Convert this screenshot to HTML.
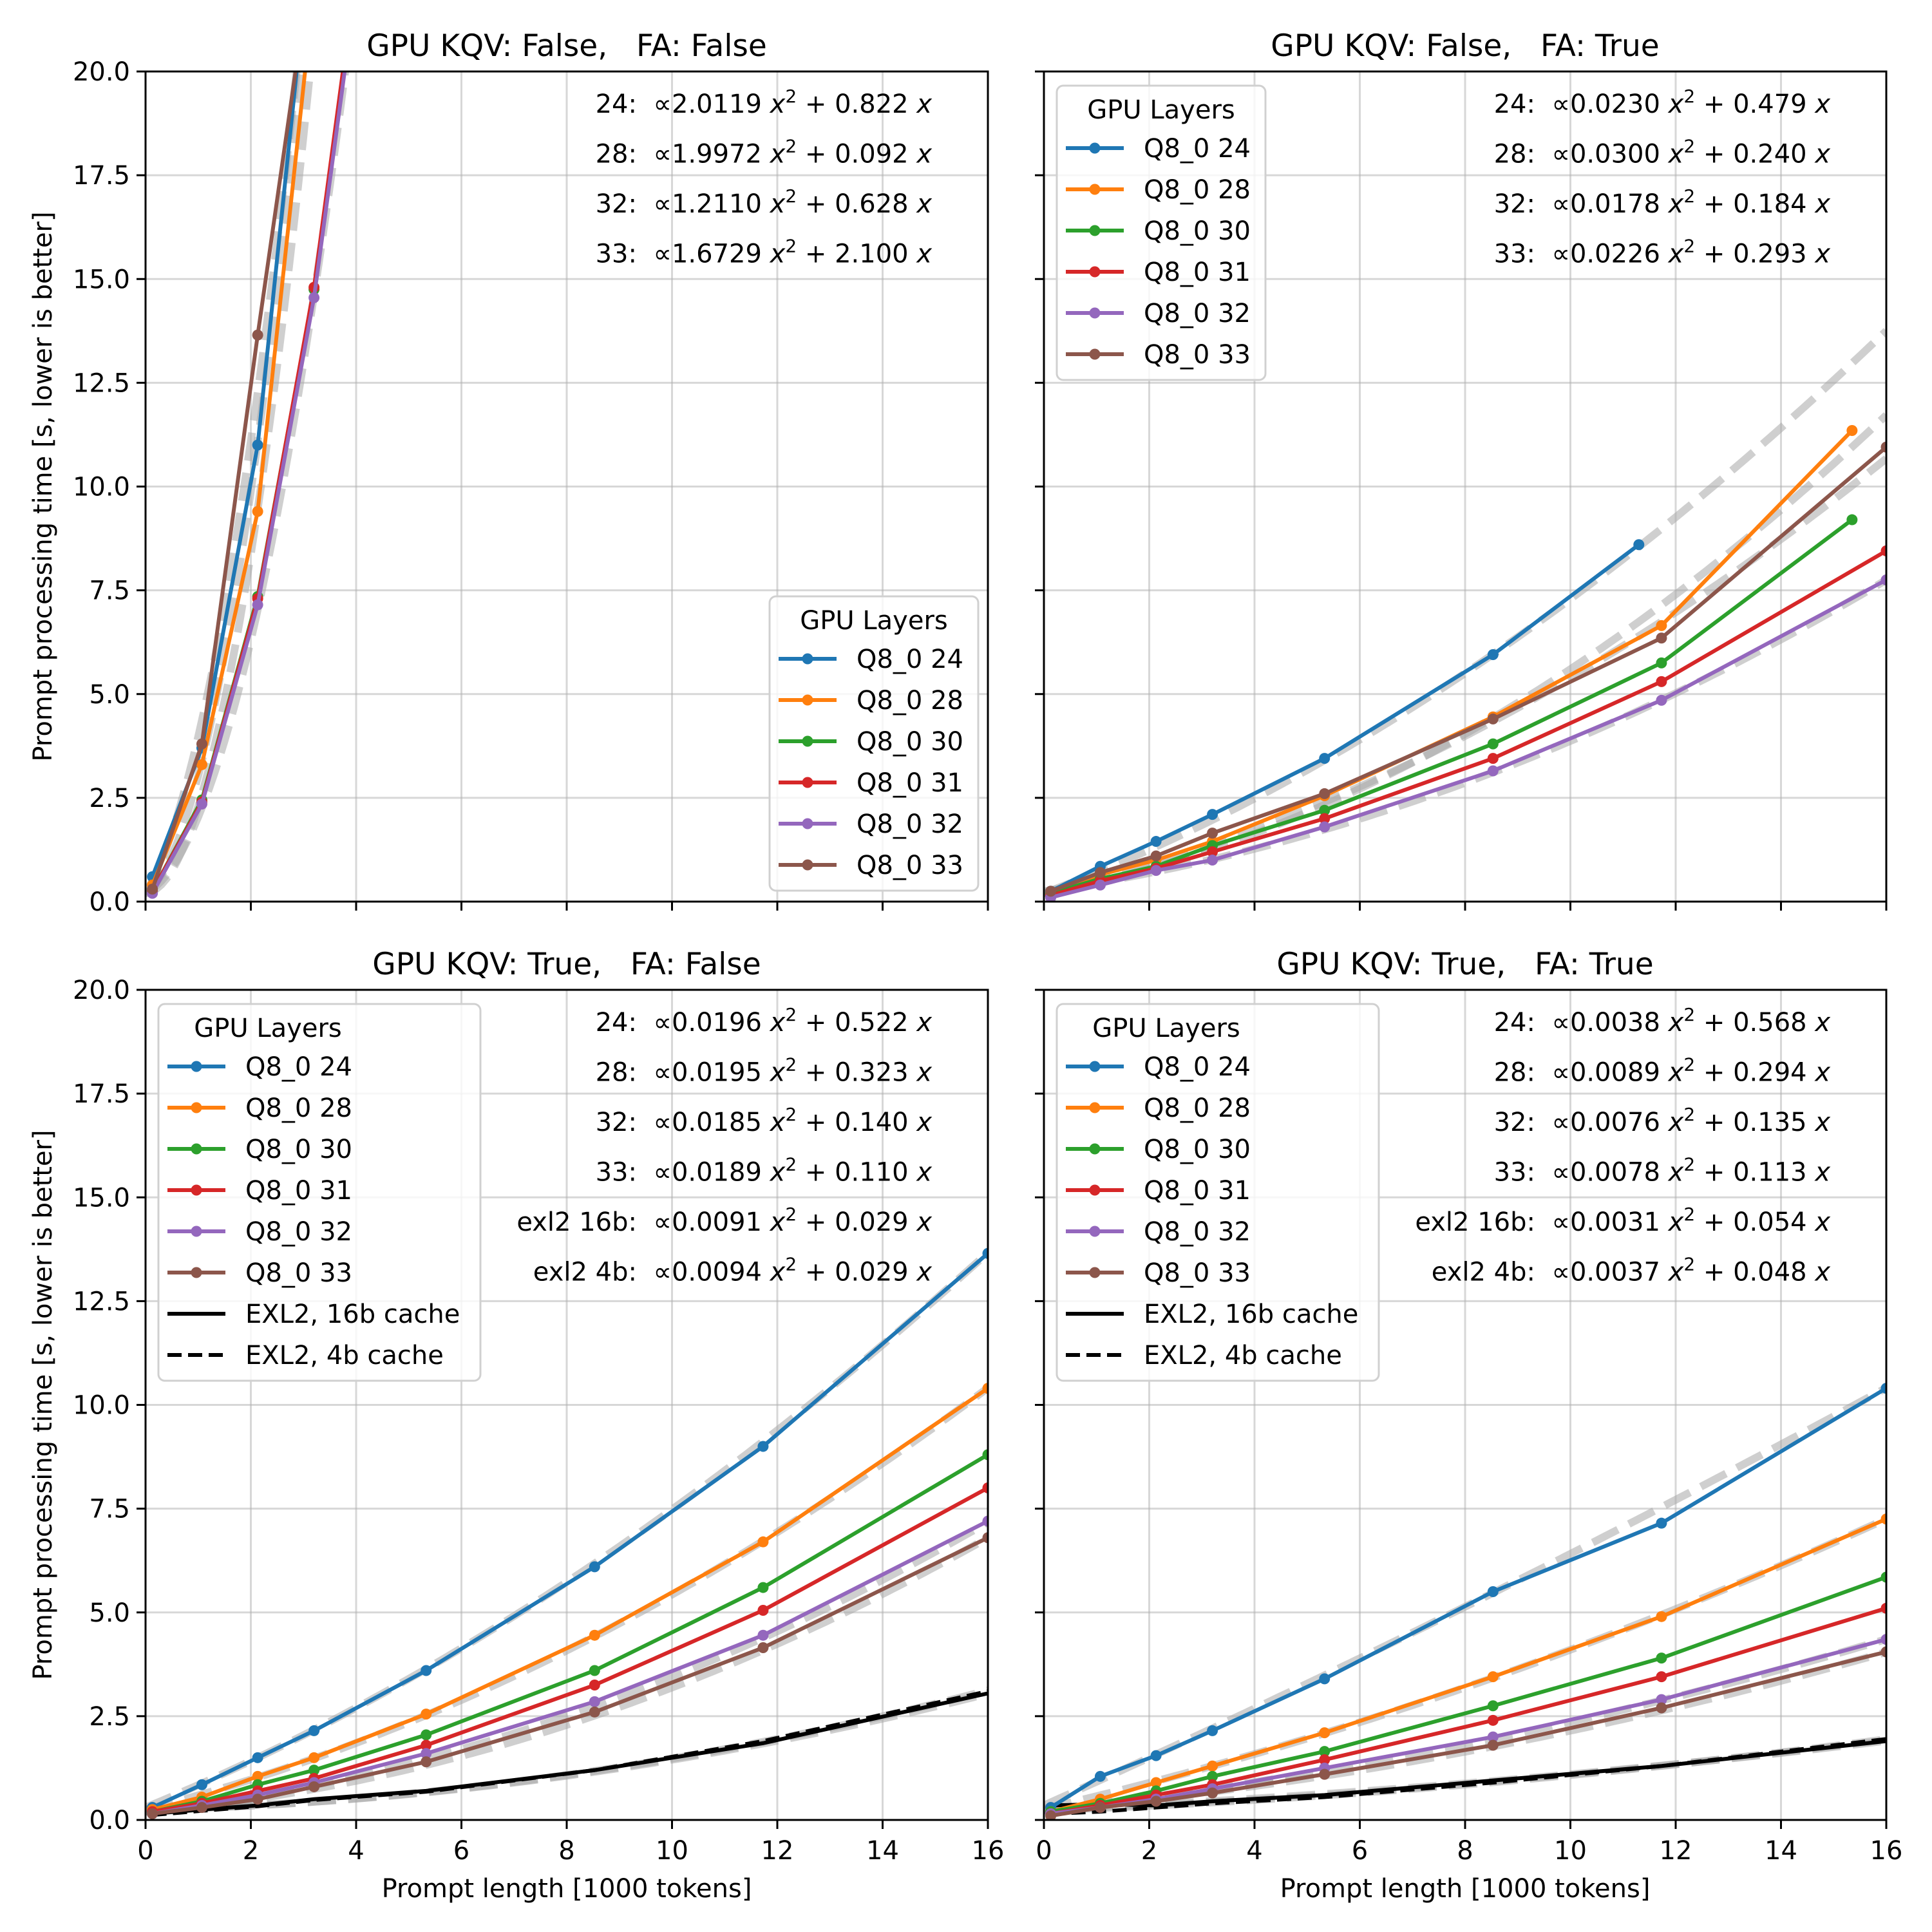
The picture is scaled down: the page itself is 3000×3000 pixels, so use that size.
<!DOCTYPE html>
<html><head><meta charset="utf-8">
<style>
html,body{margin:0;padding:0;background:#fff;}
svg{display:block;font-family:"DejaVu Sans","Liberation Sans",sans-serif;}
.pre{white-space:pre;}
</style></head>
<body>
<svg id="fig" width="3000" height="3000" viewBox="0 0 3000 3000" xmlns="http://www.w3.org/2000/svg">
<rect width="3000" height="3000" fill="#fff"/>
</svg>
<script>
// ---------- data ----------
const xPts = [0.13, 1.07, 2.13, 3.2, 5.33, 8.53, 11.73, 16];
const seriesNames = ["Q8_0 24","Q8_0 28","Q8_0 30","Q8_0 31","Q8_0 32","Q8_0 33"];
const seriesColors = ["#1f77b4","#ff7f0e","#2ca02c","#d62728","#9467bd","#8c564b"];
const xTicks = [0,2,4,6,8,10,12,14,16];
const yTicks = [0,2.5,5,7.5,10,12.5,15,17.5,20];
const yTickLabels = ["0.0","2.5","5.0","7.5","10.0","12.5","15.0","17.5","20.0"];

// panel 1: KQV False, FA False
const p1x = [[0.13,1.07,2.13,3.2],[0.13,1.07,2.13,3.2],[0.13,1.07,2.13,3.2,5.33],[0.13,1.07,2.13,3.2,5.33],[0.13,1.07,2.13,3.2,5.33],[0.13,1.07,2.13,3.2]];
const p1y = [[0.6,3.7,11.0,24.0],[0.4,3.3,9.4,22.0],[0.25,2.45,7.35,14.75,35],[0.25,2.4,7.3,14.8,35],[0.2,2.35,7.15,14.55,34.5],[0.3,3.8,13.65,23.1]];
const p1fitLabels = ["24","28","32","33"];
const p1fitA = [2.0119,1.9972,1.2110,1.6729];
const p1fitB = [0.822,0.092,0.628,2.100];
const p1fitC = [0.2,0.2,0.2,0.2];

// panel 2: KQV False, FA True
const p2x = [[0.13,1.07,2.13,3.2,5.33,8.53,11.3],[0.13,1.07,2.13,3.2,5.33,8.53,11.73,15.35],[0.13,1.07,2.13,3.2,5.33,8.53,11.73,15.35],xPts,xPts,xPts];
const p2y = [[0.25,0.85,1.45,2.1,3.45,5.95,8.6],[0.2,0.65,1.0,1.45,2.55,4.45,6.65,11.35],[0.2,0.55,0.85,1.35,2.2,3.8,5.75,9.2],[0.15,0.5,0.8,1.2,2.0,3.45,5.3,8.45],[0.1,0.4,0.75,1.0,1.8,3.15,4.85,7.75],[0.25,0.7,1.1,1.65,2.6,4.4,6.35,10.95]];
const p2fitLabels = ["24","28","32","33"];
const p2fitA = [0.0230,0.0300,0.0178,0.0226];
const p2fitB = [0.479,0.240,0.184,0.293];
const p2fitC = [0.2,0.2,0.25,0.2];

// panel 3: KQV True, FA False
const p3y = [[0.3,0.85,1.5,2.15,3.6,6.1,9.0,13.65],[0.25,0.55,1.05,1.5,2.55,4.45,6.7,10.4],[0.2,0.45,0.85,1.2,2.05,3.6,5.6,8.8],[0.2,0.4,0.7,1.0,1.8,3.25,5.05,8.0],[0.15,0.35,0.6,0.9,1.6,2.85,4.45,7.2],[0.15,0.3,0.5,0.8,1.4,2.6,4.15,6.8]];
const p3exl16 = [0.15,0.25,0.35,0.5,0.7,1.2,1.85,3.05];
const p3exl4 = [0.12,0.22,0.33,0.48,0.68,1.2,1.9,3.1];
const p3fitLabels = ["24","28","32","33","exl2 16b","exl2 4b"];
const p3fitA = [0.0196,0.0195,0.0185,0.0189,0.0091,0.0094];
const p3fitB = [0.522,0.323,0.140,0.110,0.029,0.029];
const p3fitC = [0.3,0.25,0.2,0.2,0.25,0.25];

// panel 4: KQV True, FA True
const p4y = [[0.3,1.05,1.55,2.15,3.4,5.5,7.15,10.4],[0.2,0.5,0.9,1.3,2.1,3.45,4.9,7.25],[0.2,0.4,0.7,1.05,1.65,2.75,3.9,5.85],[0.15,0.35,0.6,0.85,1.45,2.4,3.45,5.1],[0.15,0.3,0.5,0.75,1.25,2.0,2.9,4.35],[0.1,0.3,0.45,0.65,1.1,1.8,2.7,4.05]];
const p4exl16 = [0.35,0.38,0.35,0.45,0.6,0.95,1.3,1.9];
const p4exl4 = [0.15,0.2,0.3,0.4,0.55,0.9,1.3,1.95];
const p4fitLabels = ["24","28","32","33","exl2 16b","exl2 4b"];
const p4fitA = [0.0038,0.0089,0.0076,0.0078,0.0031,0.0037];
const p4fitB = [0.568,0.294,0.135,0.113,0.054,0.048];
const p4fitC = [0.35,0.27,0.25,0.24,0.25,0.23];

// ---------- drawing ----------
const NS = "http://www.w3.org/2000/svg";
const svg = document.getElementById("fig");
function mk(tag, attrs, parent){
  const e = document.createElementNS(NS, tag);
  for (const k in attrs) e.setAttribute(k, attrs[k]);
  (parent||svg).appendChild(e);
  return e;
}
const PW = 1308, PH = 1289;
const panels = [
  {id:"kqv-false-fa-false", x:226, y:111, title:"GPU KQV: False,   FA: False", xs:p1x, ys:p1y, fl:p1fitLabels, fa:p1fitA, fb:p1fitB, fc:p1fitC, left:true, bottom:false, legend:"br"},
  {id:"kqv-false-fa-true", x:1621, y:111, title:"GPU KQV: False,   FA: True", xs:p2x, ys:p2y, fl:p2fitLabels, fa:p2fitA, fb:p2fitB, fc:p2fitC, left:false, bottom:false, legend:"tl"},
  {id:"kqv-true-fa-false", x:226, y:1537, title:"GPU KQV: True,   FA: False", xs:null, ys:p3y, e16:p3exl16, e4:p3exl4, fl:p3fitLabels, fa:p3fitA, fb:p3fitB, fc:p3fitC, left:true, bottom:true, legend:"tl"},
  {id:"kqv-true-fa-true", x:1621, y:1537, title:"GPU KQV: True,   FA: True", xs:null, ys:p4y, e16:p4exl16, e4:p4exl4, fl:p4fitLabels, fa:p4fitA, fb:p4fitB, fc:p4fitC, left:false, bottom:true, legend:"tl"}
];

panels.forEach((P, pi) => {
  const g = mk("g", {});
  
  
  const sx = v => P.x + v / 16 * PW;
  const sy = v => P.y + PH - v / 20 * PH;
  const cp = mk("clipPath", {id:"clip"+pi}, g);
  mk("rect", {x:P.x, y:P.y, width:PW, height:PH}, cp);

  const grid = mk("g", {stroke:"#b0b0b0", "stroke-opacity":"0.5", "stroke-width":"3"}, g);
  
  
  xTicks.forEach(t => mk("line", {x1:sx(t), x2:sx(t), y1:P.y, y2:P.y+PH}, grid));
  yTicks.forEach(t => mk("line", {x1:P.x, x2:P.x+PW, y1:sy(t), y2:sy(t)}, grid));

  const plot = mk("g", {"clip-path":"url(#clip"+pi+")"}, g);
  P.fl.forEach((lab, i) => {
    let d = "";
    for (let k = 0; k <= 160; k++) {
      const xv = k / 10;
      const yv = P.fa[i] * xv * xv + P.fb[i] * xv + P.fc[i];
      d += (k ? "L" : "M") + sx(xv).toFixed(1) + " " + sy(yv).toFixed(1);
    }
    const f = mk("path", {d:d, fill:"none", stroke:"#a8a8a8", "stroke-opacity":"0.55", "stroke-width":"12", "stroke-dasharray":"44 19"}, plot);
    
    
  });
  if (P.e16) {
    const l16 = mk("polyline", {points: xPts.map((x,k)=>sx(x)+","+sy(P.e16[k])).join(" "), fill:"none", stroke:"#000", "stroke-width":"6"}, plot);
    
    
    const l4 = mk("polyline", {points: xPts.map((x,k)=>sx(x)+","+sy(P.e4[k])).join(" "), fill:"none", stroke:"#000", "stroke-width":"6", "stroke-dasharray":"22 10"}, plot);
    
    
  }
  P.ys.forEach((ys, i) => {
    const xs = P.xs ? P.xs[i] : xPts;
    const sg = mk("g", {}, plot);
    
    
    mk("polyline", {points: ys.map((y,k)=>sx(xs[k])+","+sy(y)).join(" "), fill:"none", stroke:seriesColors[i], "stroke-width":"6", "stroke-linejoin":"round"}, sg);
    ys.forEach((y,k) => {
      const c = mk("circle", {cx:sx(xs[k]), cy:sy(y), r:"8.5", fill:seriesColors[i]}, sg);
      
      
    });
  });

  const sp = mk("rect", {x:P.x, y:P.y, width:PW, height:PH, fill:"none", stroke:"#000", "stroke-width":"3"}, g);
  
  
  xTicks.forEach(t => {
    mk("line", {x1:sx(t), x2:sx(t), y1:P.y+PH, y2:P.y+PH+14, stroke:"#000", "stroke-width":"3"}, g);
    if (P.bottom) {
      const tl = mk("text", {x:sx(t), y:P.y+PH+61, "text-anchor":"middle", "font-size":"40"}, g);
      tl.textContent = String(t);
      
      
    }
  });
  yTicks.forEach((t, k) => {
    mk("line", {x1:P.x-14, x2:P.x, y1:sy(t), y2:sy(t), stroke:"#000", "stroke-width":"3"}, g);
    if (P.left) {
      const tl = mk("text", {x:P.x-24, y:sy(t)+14, "text-anchor":"end", "font-size":"40"}, g);
      tl.textContent = yTickLabels[k];
      
      
    }
  });
  const tt = mk("text", {x:P.x+PW/2, y:P.y-24, "text-anchor":"middle", "font-size":"47", "class":"pre"}, g);
  tt.textContent = P.title;
  
  
  if (P.bottom) {
    const xl = mk("text", {x:P.x+PW/2, y:P.y+PH+120, "text-anchor":"middle", "font-size":"40"}, g);
    xl.textContent = "Prompt length [1000 tokens]";
    
    
  }
  if (P.left) {
    const yl = mk("text", {x:0, y:0, "text-anchor":"middle", "font-size":"40", transform:"translate(80,"+(P.y+PH/2)+") rotate(-90)"}, g);
    yl.textContent = "Prompt processing time [s, lower is better]";
    
    
  }
  P.fl.forEach((lab, i) => {
    const t = mk("text", {x:P.x+PW-87, y:P.y+64+i*77.5, "text-anchor":"end", "font-size":"40", "class":"pre"}, g);
    
    
    const a = P.fa[i].toFixed(4), b = P.fb[i].toFixed(3);
    t.innerHTML = lab + ":  ∝" + a + " <tspan font-style=\"italic\">x</tspan><tspan font-size=\"28\" dy=\"-16\">2</tspan><tspan dy=\"16\"> + " + b + " </tspan><tspan font-style=\"italic\">x</tspan>";
  });

  const entries = seriesNames.map((n,i)=>({n:n, c:seriesColors[i], m:true, dash:null}));
  if (P.e16) {
    entries.push({n:"EXL2, 16b cache", c:"#000", m:false, dash:null});
    entries.push({n:"EXL2, 4b cache", c:"#000", m:false, dash:"22 10"});
  }
  const W = P.e16 ? 500 : 324;
  const H = 457 + (entries.length - 6) * 64;
  let lx, ly;
  if (P.legend === "br") { lx = P.x + PW - 15 - W; ly = P.y + PH - 17 - H; }
  else { lx = P.x + 20; ly = P.y + 22; }
  const lg = mk("g", {}, g);
  
  
  mk("rect", {x:lx, y:ly, width:W, height:H, rx:"10", fill:"#fff", "fill-opacity":"0.8", stroke:"#d0d0d0", "stroke-width":"3"}, lg);
  const lt = mk("text", {x:lx + (P.e16 ? 170 : W/2), y:ly+51, "text-anchor":"middle", "font-size":"40"}, lg);
  lt.textContent = "GPU Layers";
  
  
  entries.forEach((e, k) => {
    const cy = ly + 97 + k * 64;
    const eg = mk("g", {}, lg);
    
    
    const ln = {x1:lx+14, x2:lx+104, y1:cy, y2:cy, stroke:e.c, "stroke-width":"6"};
    if (e.dash) ln["stroke-dasharray"] = e.dash;
    mk("line", ln, eg);
    if (e.m) mk("circle", {cx:lx+59, cy:cy, r:"8.5", fill:e.c}, eg);
    const tx = mk("text", {x:lx+135, y:cy+14, "font-size":"40"}, eg);
    tx.textContent = e.n;
  });
});
</script>
</body></html>
